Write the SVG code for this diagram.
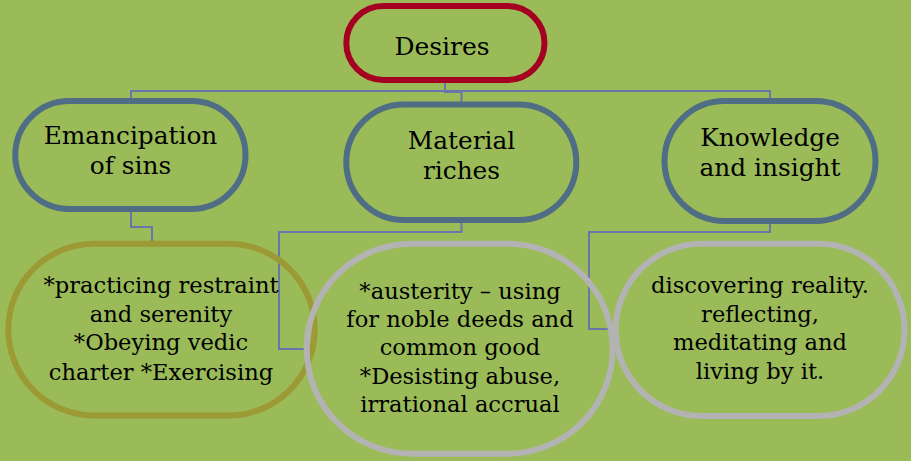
<svg xmlns="http://www.w3.org/2000/svg" width="911" height="461" viewBox="0 0 911 461">
<style>
.node{fill:none;stroke-width:6}
.red{stroke:#A50021}
.blue{stroke:#4F6D84}
.ochre{stroke:#9C9A34}
.grey{stroke:#B3B3B3}
.conn{fill:none;stroke:#6C74AE;stroke-width:2}
text{font-family:"DejaVu Serif","Liberation Serif",serif;fill:#000;text-anchor:middle}
.h{font-size:24.8px}
.l{font-size:22.6px}
</style>
<rect width="911" height="461" fill="#9BBB59"/>
<g id="connectors">
<path class="conn" d="M131,101 V91 H770 V101"/>
<path class="conn" d="M445,82 V92 H461.5 V104"/>
<path class="conn" d="M131,209 V227 H152 V244"/>
<path class="conn" d="M461.5,220 V232 H279 V349 H307"/>
<path class="conn" d="M770,221 V232 H589 V329 H616"/>
</g>
<g id="desires">
<rect class="node red" x="346.3" y="6" width="198.2" height="74" rx="37"/>
<text class="h" x="442" y="55" style="font-size:25px">Desires</text>
</g>
<g id="emancipation">
<rect class="node blue" x="15.3" y="101" width="230.2" height="108" rx="54"/>
<text class="h" x="130.5" y="144">Emancipation</text>
<text class="h" x="130.5" y="174">of sins</text>
</g>
<g id="material">
<rect class="node blue" x="346.3" y="104.5" width="230" height="115.5" rx="57.7"/>
<text class="h" x="461.5" y="149">Material</text>
<text class="h" x="461.5" y="179">riches</text>
</g>
<g id="knowledge">
<rect class="node blue" x="664.5" y="101" width="211" height="120" rx="60"/>
<text class="h" x="770" y="145.5">Knowledge</text>
<text class="h" x="770" y="175.5">and insight</text>
</g>
<g id="practices">
<rect class="node ochre" x="8.3" y="243.7" width="306.4" height="171.8" rx="86"/>
<text class="l" x="161" y="292.5">*practicing restraint</text>
<text class="l" x="161" y="321.5">and serenity</text>
<text class="l" x="161" y="350">*Obeying vedic</text>
<text class="l" x="161" y="379.5">charter *Exercising</text>
</g>
<g id="austerity">
<rect class="node grey" x="306.7" y="243.7" width="306" height="210" rx="105"/>
<text class="l" x="460" y="299">*austerity – using</text>
<text class="l" x="460" y="327">for noble deeds and</text>
<text class="l" x="460" y="355">common good</text>
<text class="l" x="460" y="384">*Desisting abuse,</text>
<text class="l" x="460" y="412">irrational accrual</text>
</g>
<g id="discovering">
<rect class="node grey" x="615.7" y="243.7" width="288.8" height="172.3" rx="86"/>
<text class="l" x="760" y="292.5">discovering reality.</text>
<text class="l" x="760" y="321.5">reflecting,</text>
<text class="l" x="760" y="350">meditating and</text>
<text class="l" x="760" y="378.5">living by it.</text>
</g>
</svg>
